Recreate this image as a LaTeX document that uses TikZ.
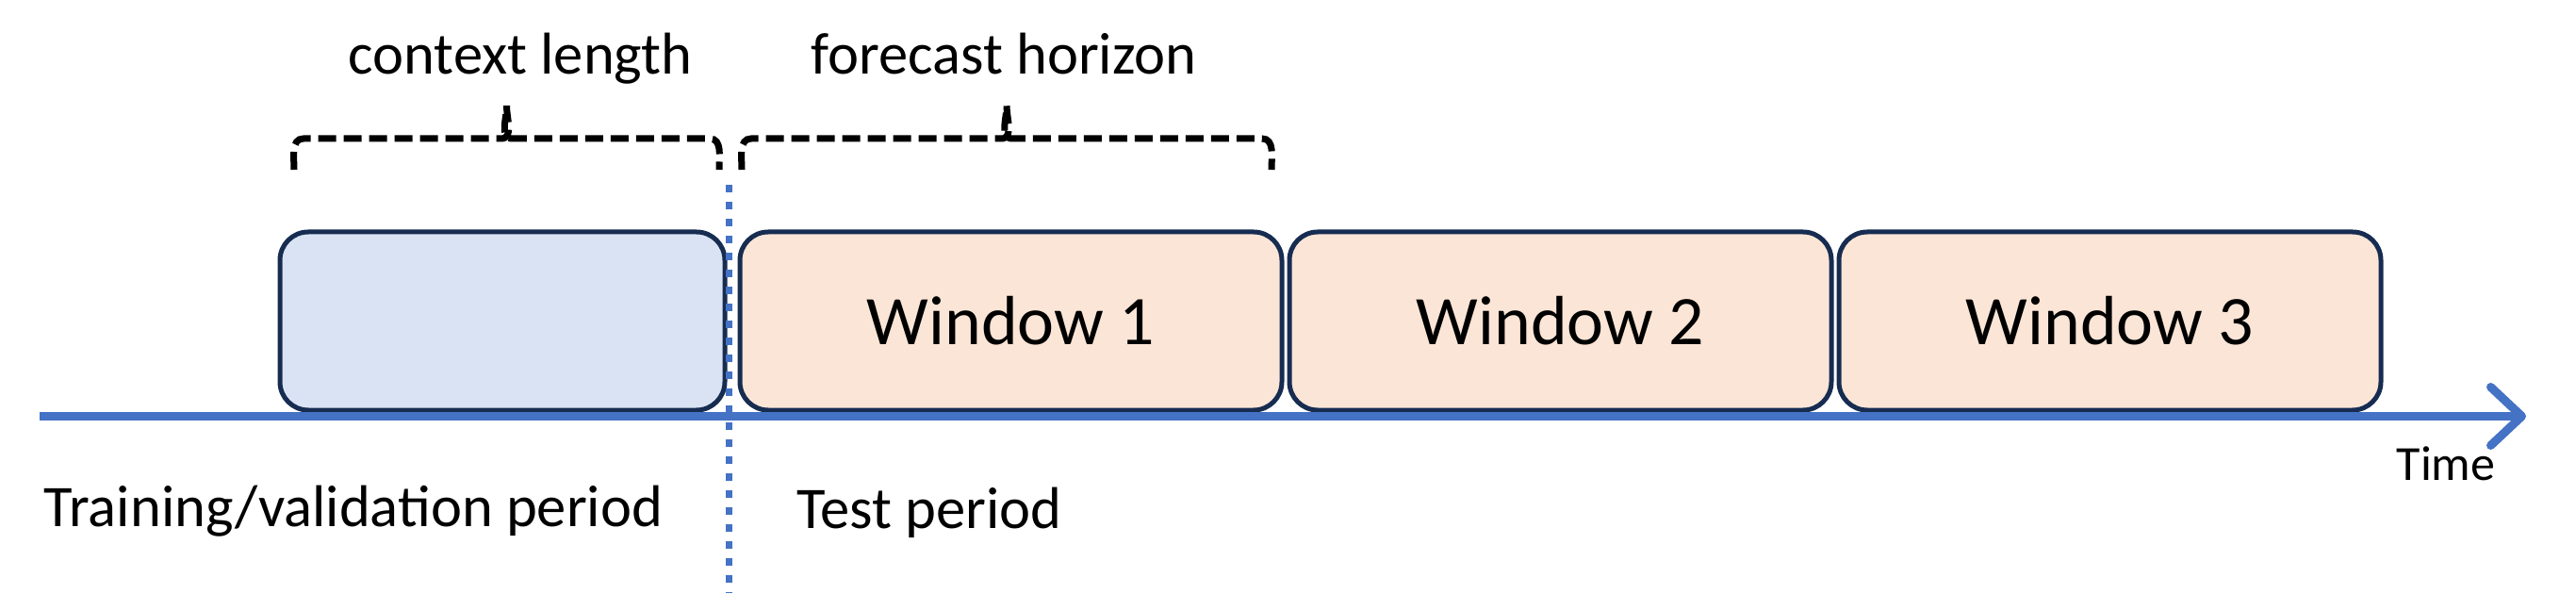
\documentclass[tikz,border=0pt]{standalone}
\usepackage{fontspec}
\setmainfont{Carlito}
\usepackage{tikz}
\usetikzlibrary{arrows.meta, positioning, calc}
\definecolor{axisblue}{HTML}{4472C4}
\definecolor{boxline}{HTML}{172C51}
\definecolor{ctxfill}{HTML}{DAE3F3}
\definecolor{winfill}{HTML}{FBE5D6}
\tikzset{
  period/.style={rectangle, draw=boxline, line width=0.05cm, rounded corners=0.3cm,
                 minimum height=1.89cm, inner sep=0pt, font=\fontsize{21}{24}\selectfont},
  ctxbox/.style={period, fill=ctxfill, minimum width=4.72cm},
  winbox/.style={period, fill=winfill, minimum width=5.75cm},
  lbl/.style={anchor=base, inner sep=0pt, font=\fontsize{17.8}{20}\selectfont},
  dbrace/.style={dash pattern=on 0.19cm off 0.08cm, line width=0.07cm},
  timeaxis/.style={-{Straight Barb[length=0.33cm, width=0.62cm, round]},
                   draw=axisblue, line width=0.09cm},
  split/.style={draw=axisblue, line width=0.07cm, dash pattern=on 0.08cm off 0.10cm}
}

\begin{document}
\begin{tikzpicture}
  \useasboundingbox (0,0) rectangle (27.33,6.29);

  % Periods
  \node[ctxbox] (ctx) at (5.33,2.885) {};
  \node[winbox, right=0.11cm of ctx] (win1) {Window 1};
  \node[winbox, right=0.03cm of win1] (win2) {Window 2};
  \node[winbox, right=0.03cm of win2] (win3) {Window 3};

  % Time axis
  \coordinate (t0) at (0.42,1.875);
  \coordinate (t1) at (26.80,1.875);
  \draw[timeaxis] (t0) -- (t1);
  \node[lbl, font=\fontsize{14.8}{17}\selectfont] (time) at (25.95,1.19) {Time};

  % Split between training and test
  \coordinate (splitT) at (7.73,4.33);
  \coordinate (splitB) at (7.73,0);
  \draw[split] (splitT) -- (splitB);
  \node[lbl] (train) at (3.75,0.71) {Training/validation period};
  \node[lbl] (test) at (9.86,0.69) {Test period};

  % Braces
  \coordinate (ctxL) at (3.12,4.49);
  \coordinate (ctxR) at (7.63,4.49);
  \coordinate (fcL) at (7.87,4.49);
  \coordinate (fcR) at (13.49,4.49);
  \foreach \l/\r in {ctxL/ctxR, fcL/fcR} {
    \coordinate (m) at ($(\l)!0.5!(\r)$);
    \draw[dbrace] (\l) to[out=90, in=180] ++(0.1,0.33)
      -- ([shift={(-0.06,0.33)}]m) to[out=0, in=-90] ([yshift=0.68cm]m)
      to[out=-90, in=180] ([shift={(0.06,0.33)}]m)
      -- ([shift={(-0.1,0.33)}]\r) to[out=0, in=90] (\r);
  }
  \node[lbl] (ctxlbl) at (5.52,5.50) {context length};
  \node[lbl] (fclbl) at (10.65,5.50) {forecast horizon};
\end{tikzpicture}
\end{document}
